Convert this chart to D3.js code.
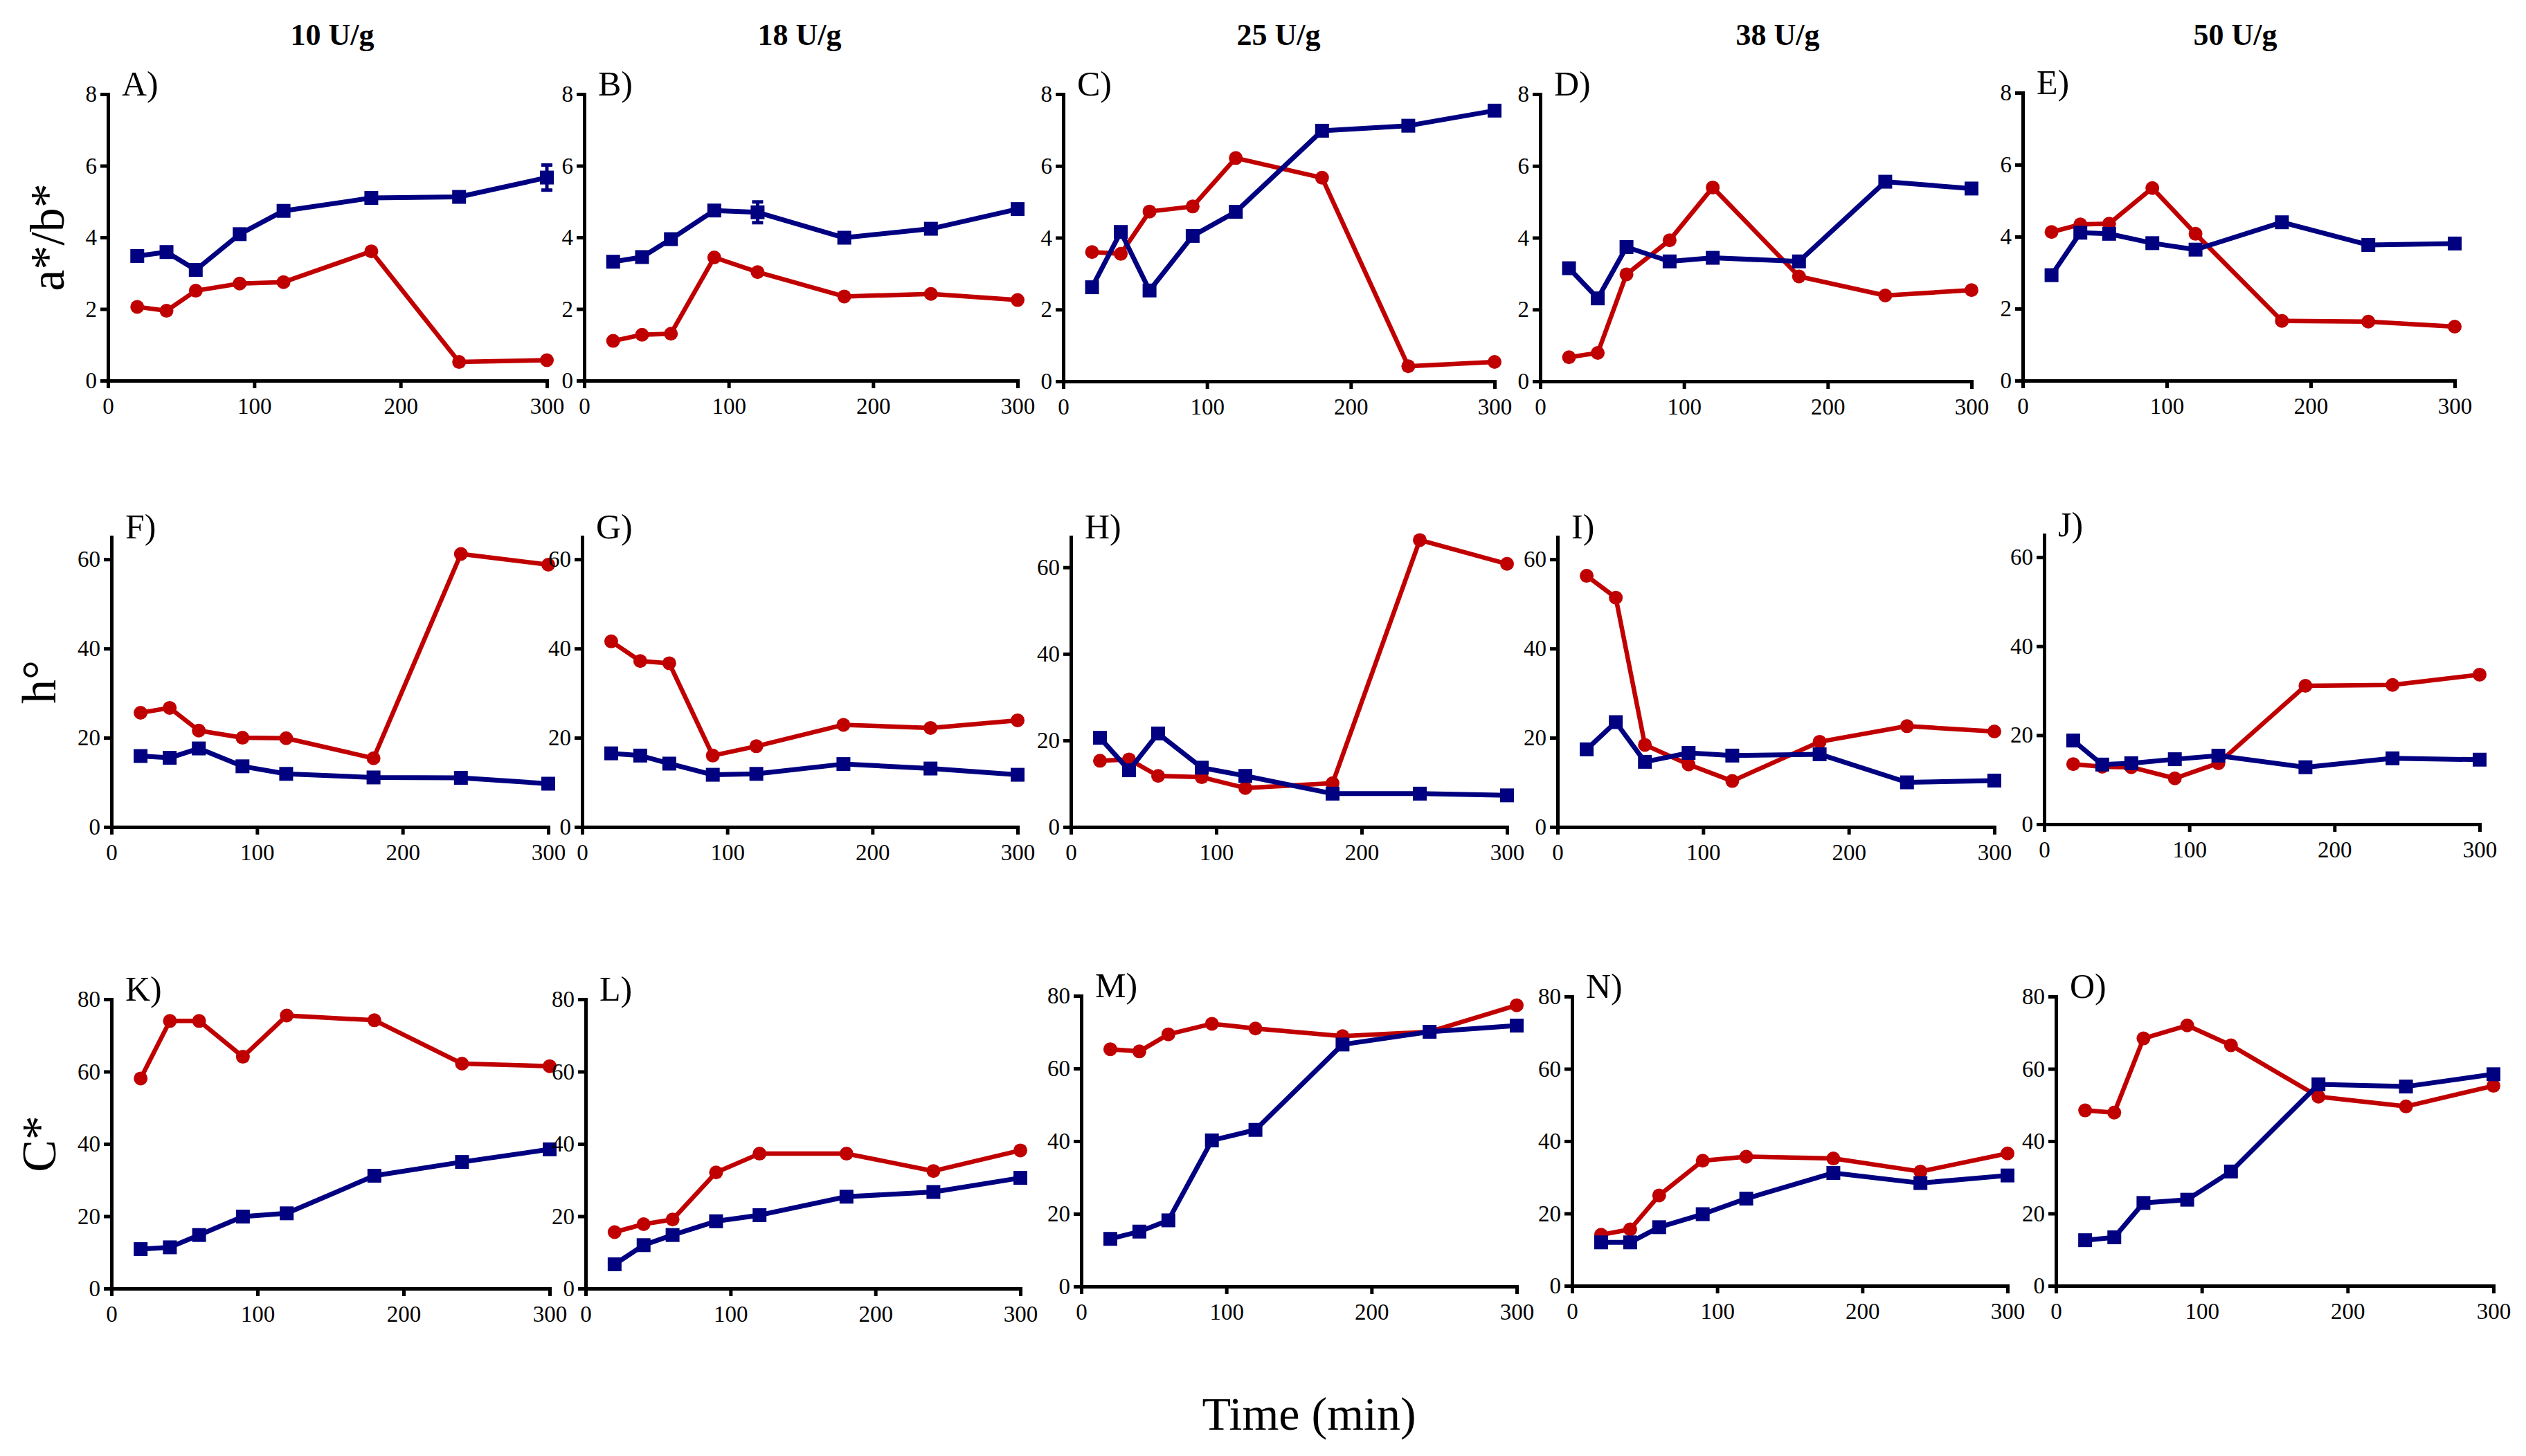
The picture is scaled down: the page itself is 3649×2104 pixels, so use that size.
<!DOCTYPE html>
<html lang="en">
<head>
    <meta charset="UTF-8">
    <title>colour parameters vs time</title>
    <style>
        body { margin: 0; background: #fff; }
        svg text { font-family: "Liberation Serif", "DejaVu Serif", serif; fill: #000; }
        .series-red { stroke: #c00000; fill: none; stroke-width: 6.5; stroke-linejoin: round; }
        .series-blue { stroke: #000080; fill: none; stroke-width: 7; stroke-linejoin: round; }
        .axis path, .axis line { stroke: #000; stroke-width: 5; }
        .axis .domain { stroke-linecap: square; }
    </style>
</head>
<body>
<svg id="chart" width="3649" height="2104"></svg>

<script src="https://cdnjs.cloudflare.com/ajax/libs/d3/7.8.5/d3.min.js"></script>
<script>
    // sampling times (min)
    const times = [20, 40, 60, 90, 120, 180, 240, 300];
    const doses = ["10 U/g", "18 U/g", "25 U/g", "38 U/g", "50 U/g"];
    const letters = [["A)", "B)", "C)", "D)", "E)"], ["F)", "G)", "H)", "I)", "J)"], ["K)", "L)", "M)", "N)", "O)"]];
    const rowTitles = ["a*/b*", "h°", "C*"];
    const xTicks = [0, 100, 200, 300];
    const yTicks = [[0, 2, 4, 6, 8], [0, 20, 40, 60], [0, 20, 40, 60, 80]];
    const yMax = [[8, 8, 8, 8, 8], [65, 65, 67, 65, 65], [80, 80, 80, 80, 80]];

    // a*/b* (one row per dose)
    const abRed = [
        [2.06, 1.95, 2.51, 2.71, 2.75, 3.61, 0.52, 0.57],
        [1.11, 1.28, 1.31, 3.44, 3.03, 2.35, 2.42, 2.25],
        [3.60, 3.55, 4.73, 4.87, 6.22, 5.67, 0.42, 0.54],
        [0.67, 0.79, 2.98, 3.93, 5.40, 2.92, 2.39, 2.54],
        [4.13, 4.34, 4.36, 5.35, 4.08, 1.66, 1.64, 1.50]
    ];
    const abBlue = [
        [3.48, 3.59, 3.09, 4.09, 4.74, 5.10, 5.13, 5.67],
        [3.32, 3.45, 3.95, 4.75, 4.70, 3.99, 4.24, 4.79],
        [2.62, 4.16, 2.53, 4.05, 4.72, 6.98, 7.12, 7.54],
        [3.15, 2.31, 3.74, 3.34, 3.44, 3.34, 5.56, 5.37],
        [2.93, 4.11, 4.08, 3.82, 3.64, 4.40, 3.77, 3.81]
    ];
    const abBlueErr = [
        [0, 0, 0, 0, 0, 0, 0, 0.35],
        [0, 0, 0, 0, 0.29, 0, 0, 0],
        [0, 0, 0, 0, 0, 0, 0, 0],
        [0, 0, 0, 0, 0, 0, 0, 0],
        [0, 0, 0, 0, 0, 0, 0, 0]
    ];

    // h°
    const hueRed = [
        [25.6, 26.7, 21.6, 20.0, 19.9, 15.4, 61.2, 58.8],
        [41.6, 37.2, 36.7, 16.0, 18.1, 22.9, 22.2, 23.9],
        [15.3, 15.6, 11.8, 11.5, 9.0, 10.1, 66.3, 60.8],
        [56.3, 51.4, 18.4, 14.0, 10.3, 19.1, 22.6, 21.4],
        [13.5, 12.9, 12.8, 10.3, 13.7, 31.1, 31.3, 33.6]
    ];
    const hueBlue = [
        [15.9, 15.5, 17.6, 13.6, 11.9, 11.1, 11.0, 9.7],
        [16.5, 16.0, 14.2, 11.7, 11.9, 14.1, 13.1, 11.7],
        [20.6, 13.1, 21.6, 13.7, 11.8, 7.7, 7.7, 7.3],
        [17.4, 23.5, 14.6, 16.6, 16.0, 16.3, 10.0, 10.4],
        [18.8, 13.4, 13.7, 14.6, 15.4, 12.8, 14.8, 14.5]
    ];

    // C*
    const chromaRed = [
        [58.1, 74.0, 74.0, 64.1, 75.5, 74.2, 62.2, 61.5],
        [15.6, 17.8, 19.1, 32.1, 37.3, 37.3, 32.5, 38.2],
        [65.3, 64.7, 69.4, 72.3, 71.0, 68.9, 70.1, 77.4],
        [14.1, 15.6, 25.0, 34.6, 35.7, 35.2, 31.6, 36.6],
        [48.5, 47.9, 68.4, 72.0, 66.5, 52.3, 49.6, 55.3]
    ];
    const chromaBlue = [
        [10.9, 11.4, 14.8, 19.9, 20.8, 31.2, 35.0, 38.5],
        [6.7, 12.0, 14.8, 18.6, 20.3, 25.4, 26.7, 30.6],
        [13.1, 15.1, 18.2, 40.2, 43.1, 66.6, 70.1, 71.8],
        [12.0, 12.0, 16.2, 19.8, 24.1, 31.2, 28.4, 30.5],
        [12.6, 13.4, 22.9, 23.8, 31.6, 55.7, 55.1, 58.5]
    ];

    const redRows = [abRed, hueRed, chromaRed];
    const blueRows = [abBlue, hueBlue, chromaBlue];

    // panel frames in pixels: [x at 0 min, x at 300 min] and [y at top, y at 0]
    const frameX = [
        [[156, 790], [844, 1470], [1536, 2159], [2225, 2848], [2922, 3546]],
        [[161, 792], [841, 1470], [1547, 2177], [2250, 2881], [2953, 3582]],
        [[161, 794], [846, 1474], [1562, 2191], [2271, 2900], [2970, 3602]]
    ];
    const frameY = [
        [[136, 550], [136, 550], [136, 551], [136, 551], [134, 550]],
        [[776, 1195], [776, 1195], [776, 1195], [776, 1195], [773, 1191]],
        [[1444, 1862], [1444, 1862], [1439, 1859], [1440, 1858], [1440, 1858]]
    ];
    const doseX = [480, 1155, 1847, 2568, 3229];
    const rowTitleX = [92, 80, 80];

    const svg = d3.select("#chart");
    svg.append("rect").attr("width", 3649).attr("height", 2104).attr("fill", "#fff");

    // column titles
    svg.selectAll("text.dose")
        .data(doses)
        .enter().append("text")
        .attr("class", "dose")
        .attr("x", (d, i) => doseX[i])
        .attr("y", 65)
        .attr("text-anchor", "middle")
        .attr("font-size", 44)
        .attr("font-weight", "bold")
        .text(d => d);

    function drawSeries(g, x, y, values, cls, color, square, errs) {
        const line = d3.line().x((d, i) => x(times[i])).y(d => y(d));
        g.append("path").datum(values).attr("class", cls).attr("d", line);

        if (errs) {
            const eg = g.append("g").attr("stroke", color).attr("stroke-width", 5);
            values.forEach((v, i) => {
                if (!errs[i]) return;
                const cx = x(times[i]);
                eg.append("line").attr("x1", cx).attr("x2", cx).attr("y1", y(v - errs[i])).attr("y2", y(v + errs[i]));
                eg.append("line").attr("x1", cx - 8).attr("x2", cx + 8).attr("y1", y(v - errs[i])).attr("y2", y(v - errs[i]));
                eg.append("line").attr("x1", cx - 8).attr("x2", cx + 8).attr("y1", y(v + errs[i])).attr("y2", y(v + errs[i]));
            });
        }

        if (square) {
            g.selectAll(null).data(values).enter().append("rect")
                .attr("x", (d, i) => x(times[i]) - 10)
                .attr("y", d => y(d) - 10)
                .attr("width", 20).attr("height", 20)
                .attr("fill", color);
        } else {
            g.selectAll(null).data(values).enter().append("circle")
                .attr("cx", (d, i) => x(times[i]))
                .attr("cy", d => y(d))
                .attr("r", 10)
                .attr("fill", color);
        }
    }

    for (let r = 0; r < 3; r++) {
        for (let c = 0; c < 5; c++) {
            const [x0, x1] = frameX[r][c];
            const [yTop, yBottom] = frameY[r][c];
            const x = d3.scaleLinear().domain([0, 300]).range([x0, x1]);
            const y = d3.scaleLinear().domain([0, yMax[r][c]]).range([yBottom, yTop]);
            const g = svg.append("g");

            const xAxis = g.append("g").attr("class", "axis")
                .attr("transform", `translate(0,${yBottom})`)
                .call(d3.axisBottom(x).tickValues(xTicks).tickSize(11).tickSizeOuter(0).tickPadding(14));
            const yAxis = g.append("g").attr("class", "axis")
                .attr("transform", `translate(${x0},0)`)
                .call(d3.axisLeft(y).tickValues(yTicks[r]).tickSize(11).tickSizeOuter(0).tickPadding(5));
            [xAxis, yAxis].forEach(a => a.selectAll("text")
                .attr("font-size", 33)
                .attr("font-family", "Liberation Serif")
                .attr("fill", "#000"));

            drawSeries(g, x, y, redRows[r][c], "series-red", "#c00000", false, null);
            drawSeries(g, x, y, blueRows[r][c], "series-blue", "#000080", true, r === 0 ? abBlueErr[c] : null);

            g.append("text")
                .attr("x", x0 + 20)
                .attr("y", yTop + 2)
                .attr("font-size", 50)
                .text(letters[r][c]);
        }

        const [yTop, yBottom] = frameY[r][0];
        svg.append("text")
            .attr("transform", `translate(${rowTitleX[r]},${(yTop + yBottom) / 2}) rotate(-90)`)
            .attr("text-anchor", "middle")
            .attr("font-size", 70)
            .text(rowTitles[r]);
    }

    svg.append("text")
        .attr("x", 1891)
        .attr("y", 2066)
        .attr("text-anchor", "middle")
        .attr("font-size", 68)
        .text("Time (min)");
</script>
</body>
</html>
